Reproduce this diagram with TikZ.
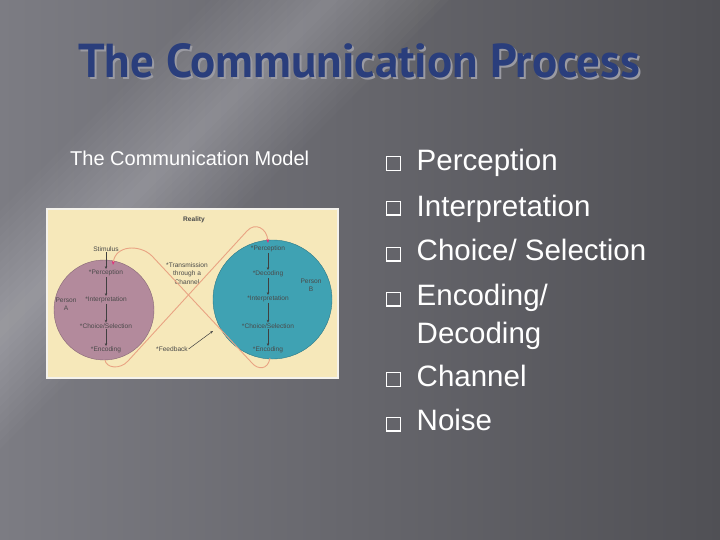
\documentclass[tikz,border=0pt]{standalone}
\usepackage{fontspec}
\setmainfont{Liberation Sans}
\newfontfamily\titlefont{PT Sans}
\usetikzlibrary{arrows.meta}
\definecolor{bgL}{HTML}{7C7C83}
\definecolor{bgR}{HTML}{505055}
\definecolor{titleblue}{HTML}{2A3E7C}
\definecolor{titleshadow}{HTML}{9A9AA2}
\definecolor{figbg}{HTML}{F6E8BA}
\definecolor{figframe}{HTML}{F4F2EC}
\definecolor{personA}{HTML}{B38A9C}
\definecolor{personB}{HTML}{3FA2B3}
\definecolor{loopc}{HTML}{E9A383}
\definecolor{tipc}{HTML}{E0307A}
\definecolor{figtxt}{HTML}{4A4A4A}
\begin{document}
\begin{tikzpicture}[x=1pt,y=-1pt,
  figlabel/.style={font=\fontsize{6.6}{8.3}\selectfont, text=figtxt, inner sep=0.6pt, align=center},
  flow/.style={-{Stealth[length=3pt,width=2.4pt]}, draw=black!75, line width=0.5pt},
  loopline/.style={draw=loopc, line width=0.9pt},
  redtip/.style={-{Stealth[length=4pt,width=3pt,color=tipc]}},
  bulletbox/.style={draw=white, line width=1.4pt, minimum size=13.5pt, inner sep=0},
  item/.style={anchor=base west, text=white, font=\fontsize{29.5}{30}\selectfont, inner sep=0},
  titletext/.style={anchor=base west, inner sep=0},
]
\useasboundingbox (0,0) rectangle (720,540);
% background
\shade[left color=bgL, right color=bgR] (0,0) rectangle (720,540);
\begin{scope}
\clip (0,0) rectangle (720,540);
\begin{scope}[rotate around={45:(165,165)}]
\foreach \w in {6,12,...,84}{
  \fill[white, opacity=0.02] (-400,165-\w) rectangle (700,165+\w);
}
\end{scope}
\end{scope}

% title (with its shadow)
\node[titletext, text=titleshadow] (titleshadow) at (80,80)
  {\resizebox{562pt}{34pt}{\titlefont\bfseries The Communication Process}};
\node[titletext, text=titleblue] (title) at (78,78)
  {\resizebox{562pt}{34pt}{\titlefont\bfseries The Communication Process}};

% subtitle
\node[anchor=base west, inner sep=0, text=white, font=\fontsize{20}{22}\selectfont] (sub) at (70,165.7) {The Communication Model};

% bullets
\node[bulletbox] (b1) at (393.5,163.5) {};
\node[bulletbox] (b2) at (393.5,208.2) {};
\node[bulletbox] (b3) at (393.5,254.2) {};
\node[bulletbox] (b4) at (393.5,299.2) {};
\node[bulletbox] (b5) at (393.5,379.5) {};
\node[bulletbox] (b6) at (393.5,424.2) {};
\node[item] (t1) at (416.5,170.7) {Perception};
\node[item] (t2) at (416.5,216) {Interpretation};
\node[item] (t3) at (416.5,260.7) {Choice/ Selection};
\node[item] (t4) at (416.5,305) {Encoding/};
\node[item] (t4b) at (416.5,343.3) {Decoding};
\node[item] (t5) at (416.5,386.7) {Channel};
\node[item] (t6) at (416.5,430.7) {Noise};

% figure
\draw[figframe, line width=1.5pt, fill=figbg] (47,209) rectangle (338,378);
\node[circle, fill=personA, draw=personA!75!black, line width=0.4pt, minimum size=100pt, inner sep=0] (pa) at (104,310) {};
\node[circle, fill=personB, draw=personB!75!black, line width=0.4pt, minimum size=119pt, inner sep=0] (pb) at (272.5,299.5) {};

\node[figlabel, font=\fontsize{6.6}{8}\selectfont\bfseries] (real) at (194,220) {Reality};
\node[figlabel] (stim) at (106,249) {Stimulus};
\node[figlabel] (ap) at (106,273) {*Perception};
\node[figlabel] (ai) at (106,300) {*Interpretation};
\node[figlabel] (ac) at (106,326) {*Choice/Selection};
\node[figlabel] (ae) at (106,350) {*Encoding};
\node[figlabel] (pA) at (66,304) {Person\\A};
\draw[flow] (stim) -- (ap);
\draw[flow] (ap) -- (ai);
\draw[flow] (ai) -- (ac);
\draw[flow] (ac) -- (ae);

\node[figlabel] (bp) at (268,249) {*Perception};
\node[figlabel] (bd) at (268,274) {*Decoding};
\node[figlabel] (bi) at (268,299) {*Interpretation};
\node[figlabel] (bc) at (268,326) {*Choice/Selection};
\node[figlabel] (be) at (268,350) {*Encoding};
\node[figlabel] (pB) at (311,285) {Person\\B};
\draw[flow] (bp) -- (bd);
\draw[flow] (bd) -- (bi);
\draw[flow] (bi) -- (bc);
\draw[flow] (bc) -- (be);

\node[figlabel] (trans) at (187,273.5) {*Transmission\\through a\\Channel};
\node[figlabel] (fb) at (172,349) {*Feedback};
\coordinate (fbtip) at (213,331);
\draw[flow] (fb.east) -- (fbtip);

% loop
\coordinate (aStart) at (105,360);
\coordinate (aEnd) at (268,243);
\coordinate (bStart) at (270,358);
\coordinate (bEnd) at (113,265);
\draw[loopline, redtip] (aStart) .. controls (106,368) and (120,370) .. (128,361)
  -- (247,231) .. controls (255,222) and (267,228) .. (aEnd);
\draw[loopline, redtip] (bStart) .. controls (268,370) and (258,370) .. (252,363)
  -- (152,256) .. controls (140,244) and (115,245) .. (bEnd);
\end{tikzpicture}
\end{document}
